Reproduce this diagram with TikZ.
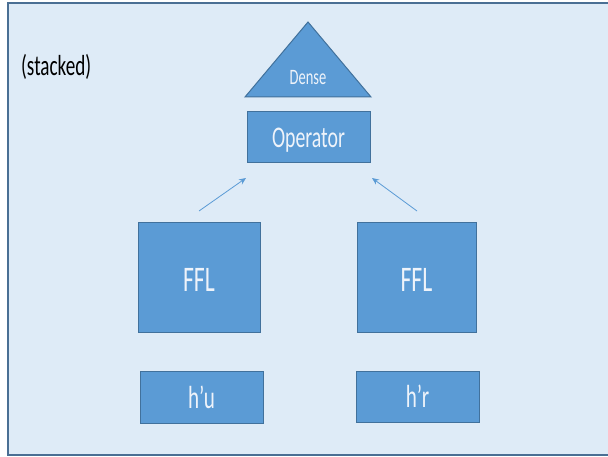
\documentclass[tikz,border=0pt]{standalone}
\usepackage{fontspec}
\setmainfont{Carlito}[FakeStretch=0.66]
\usetikzlibrary{arrows.meta}
\definecolor{boxfill}{HTML}{5B9BD5}
\definecolor{boxline}{HTML}{41719C}
\definecolor{panel}{HTML}{DEEBF7}
\definecolor{framec}{HTML}{4A6F94}
\definecolor{labelc}{HTML}{EEF3FA}
\tikzset{
  blk/.style={draw=boxline, line width=1pt, fill=boxfill, text=labelc, inner sep=0pt, text depth=0pt},
  link/.style={draw=boxfill, line width=0.8pt, -{Stealth[length=7pt,width=6pt]}},
}
\begin{document}
\begin{tikzpicture}[x=1pt, y=-1pt]
  \useasboundingbox (0,0) rectangle (608,457);
  % panel
  \fill[white] (0,0) rectangle (608,457);
  \draw[framec, line width=2pt, fill=panel] (8,3.5) rectangle (610,455);
  \node[anchor=base west, inner sep=0pt, font=\fontsize{29}{29}\selectfont] (title) at (21,76) {(stacked)};
  % dense head
  \draw[blk] (308,22) -- (371,97) -- (245,97) -- cycle;
  \node[anchor=base, inner sep=0pt, text=labelc, font=\fontsize{22}{22}\selectfont] (dense) at (308,85) {Dense};
  % operator
  \node[blk, minimum width=123pt, minimum height=51pt, text height=19.3pt, font=\fontsize{30}{30}\selectfont] (op) at (308.5,137.5) {Operator};
  % feature blocks
  \node[blk, minimum width=122pt, minimum height=109pt, text height=28.2pt, font=\fontsize{36}{36}\selectfont] (ffa) at (199,277.5) {FFL};
  \node[blk, minimum width=119pt, minimum height=109pt, text height=28.2pt, font=\fontsize{36}{36}\selectfont] (ffb) at (416.5,277.5) {FFL};
  % inputs
  \node[blk, minimum width=123pt, minimum height=52pt, text height=22.5pt, font=\fontsize{32}{32}\selectfont] (hu) at (201.5,397) {h’u};
  \node[blk, minimum width=123pt, minimum height=51pt, text height=22.5pt, font=\fontsize{32}{32}\selectfont] (hr) at (417.5,396.5) {h’r};
  % connectors
  \coordinate (fa) at (199,211);
  \coordinate (fb) at (417,211);
  \coordinate (ta) at (246,178);
  \coordinate (tb) at (372,178);
  \draw[link] (fa) -- (ta);
  \draw[link] (fb) -- (tb);
\end{tikzpicture}
\end{document}
